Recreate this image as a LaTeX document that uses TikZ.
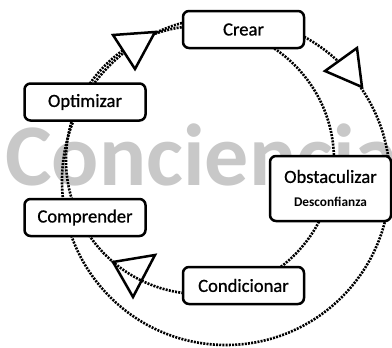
\documentclass[tikz,border=0pt]{standalone}
\usepackage{fontspec}
\setmainfont{Carlito}
\newfontfamily\stagefont[FakeBold=0.8]{Carlito}
\definecolor{markgray}{RGB}{200,200,200}
\begin{document}
\begin{tikzpicture}[x=1pt,y=-1pt,
    stage/.style={draw,line width=2.5pt,rounded corners=6pt,fill=white,
        minimum width=121pt,minimum height=37pt,inner sep=0pt,
        font=\stagefont\fontsize{18.6}{20}\selectfont},
    ring/.style={line width=2.6pt,dash pattern=on 2pt off 1.2pt},
    head/.style={line width=2.5pt,line join=miter}]
    \useasboundingbox (0,0) rectangle (392,348);
    \clip (0,0) rectangle (392,348);

    % Watermark
    \node[anchor=base west,inner sep=0pt,text=markgray,
        font=\fontsize{88}{90}\selectfont\bfseries] (mark) at (5,185) {Conciencia};

    % Rings
    \draw[ring] (200,160) circle[radius=134];
    \draw[ring] (226,181) circle[radius=164];

    % Arrow heads
    \draw[head,fill=white] (113,35) -- (155,32) -- (135,69) -- cycle;
    \draw[head,fill=white] (357,48) -- (325,71) -- (362,87) -- cycle;
    \draw[head] (113,262) -- (155,255) -- (133,297) -- cycle;

    % Stages
    \node[stage] (crear) at (243.5,29.5) {Crear};
    \node[stage] (optimizar) at (85,102) {Optimizar};
    \node[stage,minimum height=65pt,align=center] (obstaculizar) at (330.5,188.5)
        {Obstaculizar\\[4pt]{\fontfamily{\familydefault}\fontsize{13.3}{15}\selectfont\bfseries Desconfianza}};
    \node[stage] (comprender) at (85,217.5) {Comprender};
    \node[stage] (condicionar) at (243.5,285.5) {Condicionar};
\end{tikzpicture}
\end{document}
